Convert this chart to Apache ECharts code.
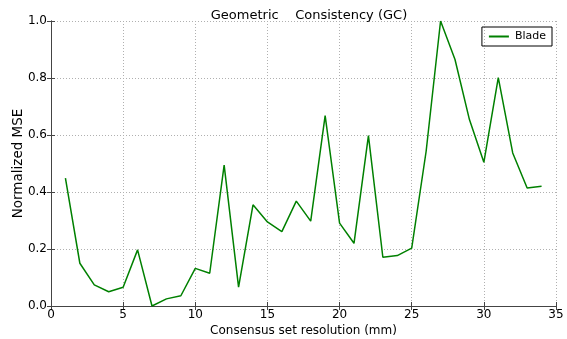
<!DOCTYPE html>
<html><head><meta charset="utf-8">
<script src="https://cdn.jsdelivr.net/npm/echarts@6/dist/echarts.min.js"></script>
<style>html,body{margin:0;padding:0;background:#fff}#c{width:567px;height:339px}</style>
</head><body><div id="c"></div>
<script>
const resolutions = [1,2,3,4,5,6,7,8,9,10,11,12,13,14,15,16,17,18,19,20,21,22,23,24,25,26,27,28,29,30,31,32,33,34];
const bladeMSE = [0.449,0.150,0.074,0.050,0.066,0.197,0.000,0.025,0.036,0.132,0.115,0.494,0.066,0.355,0.295,0.261,0.368,0.298,0.668,0.291,0.220,0.598,0.171,0.177,0.203,0.543,1.000,0.865,0.654,0.504,0.801,0.537,0.414,0.420];
const xTicks = [0,5,10,15,20,25,30,35];
const yTicks = [0.0,0.2,0.4,0.6,0.8,1.0];
const F = 'DejaVu Sans';
const chart = echarts.init(document.getElementById('c'), null, {renderer:'canvas'});
const grid = {left:51,right:11,top:21,bottom:33,containLabel:false,outerBoundsMode:'none'};
const frame = '#444';
const tickStyle = {show:true,inside:true,length:4,lineStyle:{color:frame,width:1}};
chart.setOption({
  animation:false,
  title:{text:'Geometric    Consistency (GC)',left:304,top:4,textAlign:'center',textStyle:{fontFamily:F,fontSize:13,fontWeight:'normal',color:'#000'}},
  legend:{right:15,top:27,data:[{name:'Blade',icon:'path://M0,0L10,0L10,1L0,1Z'}],itemWidth:22,itemHeight:2,itemGap:5,padding:[4,6,4,7],borderColor:'#000',borderWidth:1,borderRadius:0,textStyle:{fontFamily:F,fontSize:11,color:'#000'}},
  grid:grid,
  xAxis:[{type:'value',min:xTicks[0],max:xTicks[xTicks.length-1],interval:5,name:'Consensus set resolution (mm)',nameLocation:'middle',nameGap:19,nameMoveOverlap:false,nameTextStyle:{fontFamily:F,fontSize:12,color:'#000'},
    axisLine:{show:true,onZero:false,lineStyle:{color:frame,width:1}},axisTick:tickStyle,
    axisLabel:{fontFamily:F,fontSize:12,color:'#000',margin:3},splitLine:{show:true,lineStyle:{color:'#b0b0b0',type:[1,2],width:1}}},
    {type:'value',position:'top',min:0,max:35,interval:5,axisLine:{show:true,lineStyle:{color:frame,width:1}},axisTick:tickStyle,axisLabel:{show:false},splitLine:{show:false}}],
  yAxis:[{type:'value',min:yTicks[0],max:yTicks[yTicks.length-1],interval:0.2,name:'Normalized MSE',nameLocation:'middle',nameGap:26,nameMoveOverlap:false,nameTextStyle:{fontFamily:F,fontSize:13.5,color:'#000'},
    axisLine:{show:true,onZero:false,lineStyle:{color:frame,width:1}},axisTick:tickStyle,
    axisLabel:{fontFamily:F,fontSize:12,color:'#000',margin:4,formatter:v=>v.toFixed(1)},splitLine:{show:true,lineStyle:{color:'#b0b0b0',type:[1,2],width:1}}},
    {type:'value',position:'right',min:0,max:1,interval:0.2,axisLine:{show:true,lineStyle:{color:frame,width:1}},axisTick:tickStyle,axisLabel:{show:false},splitLine:{show:false}}],
  series:[{name:'Blade',type:'line',xAxisIndex:0,yAxisIndex:0,symbol:'none',data:resolutions.map((r,i)=>[r,bladeMSE[i]]),lineStyle:{color:'#008000',width:1.5},itemStyle:{color:'#008000'}}]
});
</script></body></html>
